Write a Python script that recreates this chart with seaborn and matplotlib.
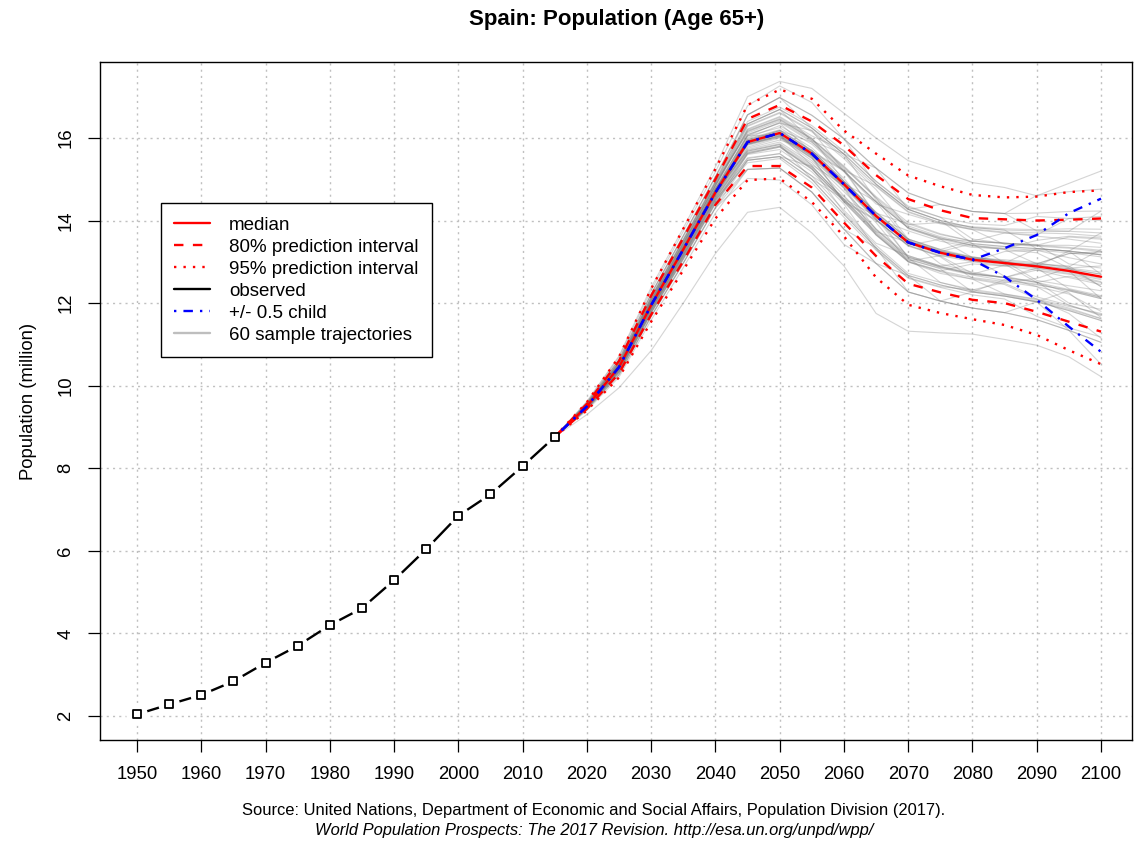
import matplotlib
matplotlib.use("Agg")
import matplotlib.pyplot as plt
from matplotlib.lines import Line2D
import numpy as np
import pandas as pd
import seaborn as sns

# Observed population 65+ (million)
anos_obs = [1950, 1955, 1960, 1965, 1970, 1975, 1980, 1985, 1990, 1995, 2000, 2005, 2010, 2015]
pop_obs = [2.04, 2.28, 2.51, 2.84, 3.29, 3.70, 4.20, 4.61, 5.29, 6.04, 6.85, 7.37, 8.05, 8.76]

# Projection years and quantiles
anos_proj = [2015, 2020, 2025, 2030, 2035, 2040, 2045, 2050, 2055, 2060,
             2065, 2070, 2075, 2080, 2085, 2090, 2095, 2100]
mediana = [8.76, 9.50, 10.45, 11.95, 13.30, 14.68, 15.90, 16.12, 15.62, 14.88,
           14.11, 13.47, 13.22, 13.05, 12.97, 12.89, 12.78, 12.64]
sup_80 = [8.76, 9.56, 10.60, 12.18, 13.58, 15.00, 16.46, 16.80, 16.40, 15.82,
          15.10, 14.52, 14.25, 14.06, 14.03, 14.00, 14.02, 14.05]
inf_80 = [8.76, 9.44, 10.30, 11.72, 13.02, 14.38, 15.32, 15.32, 14.80, 13.95,
          13.14, 12.47, 12.26, 12.08, 12.00, 11.79, 11.55, 11.31]
sup_95 = [8.76, 9.60, 10.70, 12.35, 13.80, 15.25, 16.80, 17.17, 16.95, 16.18,
          15.62, 15.09, 14.83, 14.62, 14.56, 14.58, 14.69, 14.73]
inf_95 = [8.76, 9.40, 10.20, 11.55, 12.80, 14.05, 14.98, 15.02, 14.45, 13.62,
          12.62, 11.96, 11.76, 11.61, 11.47, 11.23, 10.86, 10.52]

# +/- 0.5 child variants (same as median until 2080)
filho_mais_fim = [13.33, 13.65, 14.18, 14.53]
filho_menos_fim = [12.64, 12.08, 11.43, 10.82]
filho_mais = mediana[:14] + filho_mais_fim
filho_menos = mediana[:14] + filho_menos_fim

# 60 sample trajectories, values for 2020..2100 (all start at the 2015 observation)
trajetorias = [
    [9.51, 10.47, 11.97, 13.33, 14.75, 16.05, 16.25, 15.76, 15.02, 14.05, 13.75, 13.50, 13.35, 13.32, 13.52, 13.62, 13.58],
    [9.53, 10.52, 12.06, 13.44, 14.85, 16.20, 16.50, 16.00, 14.95, 14.20, 13.55, 12.95, 12.75, 12.62, 12.40, 11.95, 11.70],
    [9.48, 10.38, 11.84, 13.16, 14.52, 15.62, 15.78, 15.25, 14.45, 14.00, 13.40, 13.15, 13.00, 13.25, 13.28, 13.10, 12.95],
    [9.55, 10.57, 12.13, 13.52, 14.93, 16.34, 16.69, 16.24, 15.61, 14.50, 13.87, 13.61, 13.44, 12.97, 12.89, 12.78, 12.11],
    [9.45, 10.33, 11.77, 13.08, 14.43, 15.46, 15.55, 15.00, 14.52, 13.73, 13.07, 12.83, 12.27, 12.17, 12.03, 11.82, 11.58],
    [9.50, 10.45, 11.95, 13.30, 14.66, 16.00, 16.30, 15.85, 15.18, 14.40, 14.15, 13.92, 13.78, 13.70, 13.65, 14.05, 14.10],
    [9.53, 10.50, 12.02, 13.38, 14.78, 15.82, 16.02, 15.50, 14.78, 13.65, 13.00, 12.78, 12.95, 12.90, 12.80, 12.62, 12.45],
    [9.48, 10.40, 11.88, 13.22, 14.60, 15.78, 16.00, 15.45, 14.70, 13.95, 13.00, 12.72, 12.58, 12.45, 12.10, 11.75, 11.15],
    [9.58, 10.63, 12.22, 13.63, 15.06, 16.56, 16.98, 16.24, 15.61, 14.88, 14.27, 14.00, 13.83, 13.77, 13.32, 13.26, 13.17],
    [9.43, 10.27, 11.68, 12.97, 14.31, 15.24, 15.27, 14.69, 13.79, 13.34, 12.67, 12.44, 12.27, 12.57, 12.46, 12.30, 12.11],
    [9.49, 10.44, 11.93, 13.28, 14.66, 15.88, 16.08, 15.33, 14.50, 13.70, 13.05, 12.85, 12.68, 12.55, 12.44, 12.32, 12.15],
    [9.53, 10.53, 12.08, 13.46, 14.88, 16.28, 16.60, 16.15, 15.50, 14.75, 13.80, 13.55, 13.38, 13.30, 13.22, 12.85, 12.75],
    [9.52, 10.48, 11.99, 13.35, 14.72, 15.93, 16.10, 15.65, 15.20, 14.46, 13.82, 13.55, 13.10, 12.95, 12.50, 12.33, 12.14],
    [9.47, 10.37, 11.83, 13.15, 14.50, 15.40, 15.50, 14.92, 14.08, 13.28, 12.60, 12.38, 12.20, 12.10, 11.68, 11.40, 11.18],
    [9.55, 10.56, 12.10, 13.48, 14.90, 16.16, 16.47, 15.98, 15.32, 14.58, 13.95, 13.68, 13.50, 13.70, 13.62, 13.55, 13.45],
    [9.50, 10.46, 11.96, 13.31, 14.69, 15.70, 15.86, 15.35, 14.85, 14.08, 13.45, 13.25, 13.08, 13.00, 12.92, 12.82, 12.70],
    [9.60, 10.69, 12.31, 13.74, 15.18, 16.78, 17.26, 16.86, 15.98, 15.27, 14.67, 14.39, 14.22, 14.17, 14.18, 14.22, 14.23],
    [9.46, 10.35, 11.80, 13.12, 14.47, 15.60, 15.72, 15.18, 14.40, 13.30, 12.62, 12.40, 12.32, 12.50, 12.60, 12.85, 12.90],
    [9.54, 10.53, 12.07, 13.45, 14.85, 16.18, 16.45, 15.97, 15.28, 14.55, 13.90, 13.95, 13.85, 13.80, 13.78, 13.80, 13.79],
    [9.50, 10.44, 11.94, 13.27, 14.65, 15.86, 16.05, 15.58, 14.80, 13.78, 13.10, 12.50, 12.30, 12.20, 12.05, 11.85, 11.62],
    [9.48, 10.39, 11.86, 13.19, 14.56, 15.72, 15.90, 15.40, 14.60, 13.80, 13.15, 12.90, 13.00, 12.90, 12.95, 12.88, 13.30],
    [9.56, 10.59, 12.16, 13.56, 14.98, 16.40, 16.75, 16.30, 15.68, 14.95, 14.32, 14.08, 13.55, 13.45, 13.40, 13.35, 13.28],
    [9.43, 10.27, 11.68, 12.97, 14.31, 15.46, 15.55, 15.00, 14.15, 13.34, 12.27, 12.05, 11.88, 11.77, 11.60, 11.34, 10.52],
    [9.51, 10.46, 11.98, 13.32, 14.72, 15.92, 16.18, 15.90, 15.20, 14.45, 13.50, 13.27, 13.10, 13.02, 12.95, 13.20, 13.25],
    [9.53, 10.50, 12.02, 13.38, 14.77, 15.84, 16.04, 15.52, 14.45, 13.65, 13.00, 12.76, 12.58, 12.22, 12.10, 11.92, 11.75],
    [9.48, 10.40, 11.88, 13.22, 14.60, 15.75, 15.95, 15.70, 14.95, 14.20, 13.55, 13.30, 13.50, 13.45, 13.40, 13.40, 13.35],
    [9.49, 10.43, 11.92, 13.26, 14.64, 16.05, 16.38, 15.90, 15.20, 14.15, 13.52, 13.25, 13.12, 13.00, 12.85, 12.35, 12.18],
    [9.58, 10.63, 12.22, 13.63, 15.06, 16.34, 16.69, 16.24, 15.61, 15.27, 14.67, 14.39, 14.22, 14.17, 14.61, 14.70, 14.76],
    [9.45, 10.34, 11.79, 13.11, 14.47, 15.52, 15.62, 15.08, 14.25, 13.45, 13.15, 12.90, 12.72, 12.62, 12.80, 12.70, 12.52],
    [9.52, 10.49, 12.00, 13.36, 14.75, 15.98, 16.20, 15.70, 14.95, 14.18, 13.55, 13.28, 13.10, 12.65, 12.50, 12.25, 11.65],
    [9.53, 10.52, 12.05, 13.43, 14.84, 16.22, 16.52, 16.05, 15.70, 14.95, 14.35, 14.08, 13.92, 13.88, 14.10, 14.05, 14.00],
    [9.47, 10.37, 11.84, 13.16, 14.53, 15.65, 15.80, 15.28, 14.20, 13.40, 12.72, 12.50, 12.33, 12.22, 12.08, 11.88, 11.63],
    [9.51, 10.46, 11.97, 13.33, 14.71, 15.94, 16.16, 15.66, 14.90, 14.46, 13.83, 13.58, 13.40, 13.33, 13.28, 13.22, 13.12],
    [9.40, 10.21, 11.59, 12.86, 14.18, 15.24, 15.27, 14.69, 13.79, 12.96, 12.27, 12.05, 12.27, 12.17, 12.03, 11.34, 11.05],
    [9.55, 10.57, 12.13, 13.52, 14.93, 16.34, 16.69, 15.93, 15.25, 14.11, 13.50, 13.25, 13.08, 12.99, 12.92, 12.83, 12.70],
    [9.53, 10.51, 12.03, 13.40, 14.79, 16.05, 16.08, 15.56, 14.84, 14.02, 13.40, 13.55, 13.50, 13.45, 13.42, 12.95, 12.85],
    [9.48, 10.40, 11.87, 13.21, 14.58, 15.85, 16.05, 15.55, 14.45, 13.66, 13.02, 12.78, 12.62, 12.52, 12.40, 12.22, 11.80],
    [9.50, 10.45, 11.95, 13.30, 14.68, 15.68, 15.84, 15.31, 14.52, 13.73, 13.47, 13.22, 13.05, 12.97, 13.32, 13.26, 13.70],
    [9.45, 10.33, 11.77, 13.08, 14.43, 15.24, 15.27, 14.69, 13.79, 12.96, 12.67, 12.44, 12.27, 12.17, 12.03, 12.30, 12.11],
    [9.53, 10.52, 12.06, 13.44, 14.85, 16.30, 16.62, 16.18, 15.20, 14.45, 13.82, 13.58, 13.40, 13.30, 12.95, 12.90, 12.40],
    [9.49, 10.44, 11.94, 13.29, 14.66, 15.87, 16.08, 15.60, 14.86, 14.09, 13.44, 13.18, 13.02, 12.93, 12.84, 12.72, 12.57],
    [9.48, 10.38, 11.84, 13.17, 14.53, 15.64, 15.80, 15.26, 14.48, 14.02, 13.38, 13.14, 12.72, 12.62, 12.52, 12.00, 11.85],
    [9.55, 10.57, 12.13, 13.52, 14.93, 16.56, 16.98, 16.55, 15.98, 14.88, 14.27, 14.00, 13.83, 13.77, 13.75, 13.74, 14.23],
    [9.50, 10.47, 11.99, 13.35, 14.74, 16.08, 16.36, 15.66, 14.92, 14.14, 13.10, 12.87, 12.70, 12.62, 12.85, 12.75, 12.60],
    [9.45, 10.33, 11.77, 13.08, 14.43, 15.46, 15.55, 15.31, 14.52, 14.11, 13.47, 13.22, 13.05, 12.97, 12.89, 13.26, 13.17],
    [9.54, 10.53, 12.07, 13.45, 14.85, 16.15, 16.44, 15.97, 15.30, 14.55, 13.55, 13.30, 13.12, 13.02, 12.55, 12.42, 12.30],
    [9.48, 10.39, 11.86, 13.19, 14.56, 15.68, 15.84, 15.00, 14.15, 13.34, 12.67, 12.05, 11.88, 11.77, 11.60, 11.34, 11.05],
    [9.51, 10.48, 11.98, 13.34, 14.73, 15.96, 16.18, 15.68, 15.22, 14.84, 14.22, 13.95, 13.80, 13.72, 13.70, 13.68, 13.62],
    [9.58, 10.63, 12.22, 13.63, 15.06, 16.56, 16.98, 16.55, 15.98, 15.27, 14.27, 14.00, 13.44, 13.37, 13.32, 13.26, 13.17],
    [9.45, 10.32, 11.75, 13.05, 14.40, 15.62, 15.78, 15.24, 14.48, 13.68, 13.02, 13.15, 13.10, 13.05, 12.98, 12.85, 12.40],
    [9.48, 10.42, 11.91, 13.25, 14.62, 15.85, 16.06, 15.57, 14.83, 14.05, 13.12, 12.88, 12.70, 12.92, 12.95, 13.20, 13.22],
    [9.53, 10.50, 12.01, 13.37, 14.76, 15.95, 16.18, 15.70, 14.95, 14.18, 13.92, 13.66, 13.50, 13.45, 13.40, 13.60, 13.55],
    [9.48, 10.37, 11.83, 13.14, 14.50, 15.50, 15.62, 15.08, 14.58, 13.78, 13.12, 12.88, 12.70, 12.62, 12.50, 12.65, 12.50],
    [9.55, 10.57, 12.13, 13.52, 14.93, 16.12, 16.41, 15.93, 15.61, 14.88, 14.27, 14.39, 14.22, 14.17, 13.75, 13.74, 13.70],
    [9.43, 10.27, 11.68, 12.97, 14.31, 15.02, 14.98, 14.38, 13.42, 12.96, 12.27, 12.05, 11.88, 11.77, 12.03, 11.82, 11.58],
    [9.52, 10.47, 11.96, 13.32, 14.70, 15.92, 16.14, 15.63, 14.90, 14.13, 13.49, 13.25, 13.44, 13.37, 13.32, 13.26, 12.70],
    [9.48, 10.41, 11.89, 13.24, 14.62, 15.85, 16.02, 15.52, 14.80, 14.02, 13.40, 13.12, 12.60, 12.48, 12.15, 11.95, 11.72],
    [9.53, 10.50, 12.03, 13.39, 14.79, 16.08, 16.36, 16.18, 15.55, 14.82, 14.20, 13.94, 13.78, 13.42, 13.38, 13.33, 13.25],
    [9.62, 10.72, 12.38, 13.82, 15.30, 17.00, 17.37, 17.20, 16.60, 16.00, 15.45, 15.20, 14.92, 14.80, 14.60, 14.90, 15.20],
    [9.30, 9.95, 10.85, 12.00, 13.20, 14.20, 14.32, 13.70, 12.90, 11.75, 11.32, 11.28, 11.25, 11.12, 10.98, 10.70, 10.22],
]

legenda_rotulos = ["median", "80% prediction interval", "95% prediction interval",
                   "observed", "+/- 0.5 child", "60 sample trajectories"]

# long table for the trajectories
linhas = []
for i, traj in enumerate(trajetorias):
    for ano, valor in zip(anos_proj, [pop_obs[-1]] + traj):
        linhas.append({"traj": i, "ano": ano, "pop": valor})
df_traj = pd.DataFrame(linhas)
df_obs = pd.DataFrame({"ano": anos_obs, "pop": pop_obs})
df_proj = pd.DataFrame({"ano": anos_proj, "mediana": mediana, "sup_80": sup_80, "inf_80": inf_80,
                        "sup_95": sup_95, "inf_95": inf_95, "mais": filho_mais, "menos": filho_menos})

sns.set_style("white")
plt.rcParams["font.family"] = ["Liberation Sans", "DejaVu Sans"]
plt.rcParams["text.color"] = "black"
plt.rcParams["axes.labelcolor"] = "black"
plt.rcParams["xtick.color"] = "black"
plt.rcParams["ytick.color"] = "black"

fig = plt.figure(figsize=(11.34, 8.44), dpi=100)
ax = fig.add_axes([100 / 1134, 1 - 740 / 844, 1032 / 1134, 678 / 844])

LW = 1.7
sns.lineplot(data=df_traj, x="ano", y="pop", units="traj", estimator=None, color="#7f7f7f",
             alpha=0.33, lw=0.8, ax=ax, legend=False, zorder=2)

# observed: black line with gaps around open squares (R type "b")
sns.lineplot(data=df_obs, x="ano", y="pop", color="black", lw=LW, ax=ax, zorder=3)
ax.scatter(df_obs["ano"], df_obs["pop"], s=240, color="white", edgecolors="none", zorder=3.5)

sns.lineplot(data=df_proj, x="ano", y="mediana", color="red", lw=LW, ax=ax, zorder=4)
for col in ["sup_80", "inf_80"]:
    sns.lineplot(data=df_proj, x="ano", y=col, color="red", lw=LW, ls=(0, (4, 4)), ax=ax, zorder=4)
for col in ["sup_95", "inf_95"]:
    sns.lineplot(data=df_proj, x="ano", y=col, color="red", lw=LW, ls=(0, (1, 3)), ax=ax, zorder=4)
for col in ["mais", "menos"]:
    sns.lineplot(data=df_proj, x="ano", y=col, color="blue", lw=LW, ls=(0, (1, 3, 4, 3)), ax=ax, zorder=5)

sns.scatterplot(data=df_obs, x="ano", y="pop", marker="s", s=26, facecolor="white",
                edgecolor="black", linewidth=1.3, ax=ax, zorder=6)

ax.set_xlim(1944.24, 2104.82)
ax.set_ylim(1.419, 17.84)
ax.set_xticks(np.arange(1950, 2101, 10))
ax.set_yticks(np.arange(2, 17, 2))
ax.grid(True, color="#c0c0c0", lw=1.0, ls=(0, (1.5, 3)))
ax.set_axisbelow(True)
for s in ax.spines.values():
    s.set_color("black")
    s.set_linewidth(1.0)
ax.tick_params(axis="both", direction="out", length=8.6, width=0.9, color="black",
               labelsize=13.3, pad=10, bottom=True, left=True, labelcolor="black")
for lbl in ax.get_yticklabels():
    lbl.set_rotation(90)
    lbl.set_va("center")

ax.set_xlabel("")
ax.set_ylabel("Population (million)", fontsize=13.3)
ax.yaxis.set_label_coords(-0.061, 0.5)

handles = [
    Line2D([], [], color="red", lw=LW),
    Line2D([], [], color="red", lw=LW, ls=(0, (4, 4))),
    Line2D([], [], color="red", lw=LW, ls=(0, (1, 3))),
    Line2D([], [], color="black", lw=LW),
    Line2D([], [], color="blue", lw=LW, ls=(0, (1, 3, 4, 3))),
    Line2D([], [], color="#bebebe", lw=LW),
]
leg = ax.legend(handles, legenda_rotulos, loc="upper left", bbox_to_anchor=(0.059, 0.792),
                borderaxespad=0, fontsize=13.5, frameon=True, fancybox=False, framealpha=1,
                edgecolor="black", handlelength=1.9, handletextpad=1.0, labelspacing=0.26,
                borderpad=0.72)
leg.get_frame().set_linewidth(1.0)

fig.text(617 / 1134, 1 - 20 / 844, "Spain: Population (Age 65+)", ha="center", va="center",
         fontsize=16, fontweight="bold")
fig.text(594 / 1134, 1 - 811 / 844,
         "Source: United Nations, Department of Economic and Social Affairs, Population Division (2017).",
         ha="center", va="center", fontsize=11.9)
fig.text(594 / 1134, 1 - 830 / 844,
         "World Population Prospects: The 2017 Revision. http://esa.un.org/unpd/wpp/",
         ha="center", va="center", fontsize=11.9, style="italic")

fig.savefig("out.png", dpi=100)
plt.close(fig)
